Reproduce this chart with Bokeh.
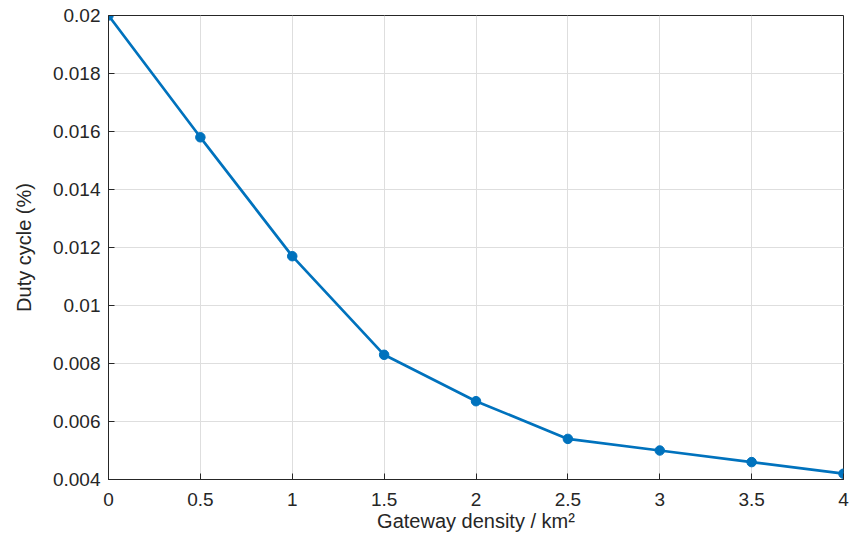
from bokeh.plotting import figure
from bokeh.models import FixedTicker, Range1d
from bokeh.embed import file_html
from bokeh.resources import INLINE

density = [0, 0.5, 1, 1.5, 2, 2.5, 3, 3.5, 4]
duty = [0.0200, 0.0158, 0.0117, 0.0083, 0.0067, 0.0054, 0.0050, 0.0046, 0.0042]
x_ticks = [0, 0.5, 1, 1.5, 2, 2.5, 3, 3.5, 4]
y_ticks = [0.004, 0.006, 0.008, 0.010, 0.012, 0.014, 0.016, 0.018, 0.020]
y_labels = {0.004: "0.004", 0.006: "0.006", 0.008: "0.008", 0.010: "0.01", 0.012: "0.012",
            0.014: "0.014", 0.016: "0.016", 0.018: "0.018", 0.020: "0.02"}
x_labels = {0: "0", 0.5: "0.5", 1: "1", 1.5: "1.5", 2: "2", 2.5: "2.5", 3: "3", 3.5: "3.5", 4: "4"}

FONT = "Liberation Sans"
TXT = "#262626"
BLUE = "#0072BD"

p = figure(width=856, height=536, output_backend="svg", toolbar_location=None,
           x_range=Range1d(0, 4), y_range=Range1d(0.004, 0.02),
           min_border_left=108, min_border_top=15, min_border_right=13, min_border_bottom=57)

p.line(density, duty, line_color=BLUE, line_width=2.7)
p.scatter(density, duty, size=9.5, fill_color=BLUE, line_color=BLUE)

for ax in (p.xaxis[0], p.yaxis[0]):
    ax.axis_line_color = TXT
    ax.major_tick_line_color = TXT
    ax.major_tick_in = 6
    ax.major_tick_out = 0
    ax.minor_tick_line_color = None
    ax.major_label_text_font = FONT
    ax.major_label_text_font_size = "19px"
    ax.major_label_text_color = TXT
    ax.axis_label_text_font = FONT
    ax.axis_label_text_font_size = "20px"
    ax.axis_label_text_font_style = "normal"
    ax.axis_label_text_color = TXT

p.xaxis[0].ticker = FixedTicker(ticks=x_ticks)
p.xaxis[0].major_label_overrides = x_labels
p.xaxis[0].axis_label = "Gateway density / km²"
p.xaxis[0].axis_label_standoff = 1
p.xaxis[0].major_label_standoff = 13
p.yaxis[0].ticker = FixedTicker(ticks=y_ticks)
p.yaxis[0].major_label_overrides = y_labels
p.yaxis[0].axis_label = "Duty cycle (%)"
p.yaxis[0].axis_label_standoff = 15
p.yaxis[0].major_label_standoff = 8

p.xgrid.ticker = FixedTicker(ticks=x_ticks)
p.ygrid.ticker = FixedTicker(ticks=y_ticks)
p.grid.grid_line_color = "#dedede"
p.grid.grid_line_width = 1
p.outline_line_color = TXT
p.background_fill_color = "white"
p.border_fill_color = "white"

open("out.html", "w").write(file_html(p, INLINE))
